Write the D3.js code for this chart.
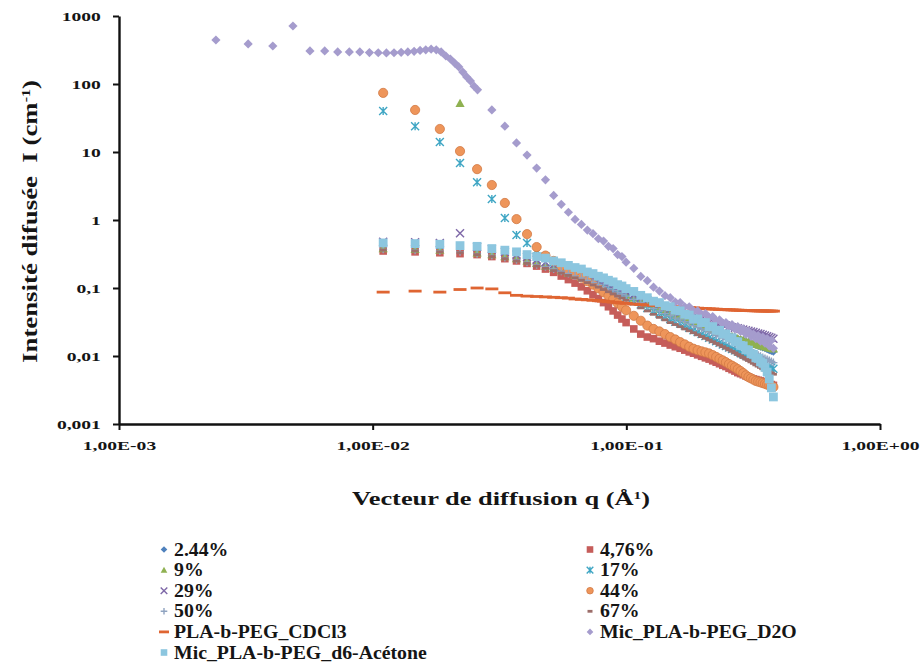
<!DOCTYPE html>
<html>
<head>
<meta charset="utf-8">
<script src="https://cdn.jsdelivr.net/npm/d3@7"></script>
<style>
  body { margin: 0; background: #fff; }
  svg { display: block; }
  text { font-family: "Liberation Serif", "Times New Roman", serif; font-weight: bold; fill: #151515; }
</style>
</head>
<body>
<svg id="chart" width="923" height="666"></svg>
<script>
// ---- scattering vector grid shared by the solution series (Å-1) ----
const qGrid = [
  0.0110, 0.0147, 0.0184, 0.0221, 0.0258, 0.0295, 0.0332, 0.0369, 0.0406, 0.0443,
  0.0480, 0.0517, 0.0554, 0.0591, 0.0628, 0.0665, 0.0702, 0.0739, 0.0776, 0.0813,
  0.0850, 0.0887, 0.0924, 0.0961, 0.0998, 0.107, 0.114, 0.121, 0.128, 0.135,
  0.142, 0.149, 0.156, 0.163, 0.170, 0.177, 0.184, 0.191, 0.198, 0.205,
  0.212, 0.219, 0.226, 0.233, 0.240, 0.247, 0.254, 0.261, 0.268, 0.275,
  0.282, 0.289, 0.296, 0.303, 0.310, 0.317, 0.324, 0.331, 0.338, 0.345,
  0.352, 0.359, 0.366, 0.373, 0.380
];

// ---- scattered intensities I (cm-1), one value per qGrid entry ----
const i244 = [
  0.40, 0.39, 0.38, 0.36, 0.34, 0.32, 0.30, 0.275, 0.255, 0.235,
  0.215, 0.198, 0.182, 0.168, 0.156, 0.145, 0.135, 0.126, 0.118, 0.110,
  0.103, 0.097, 0.091, 0.086, 0.081, 0.073, 0.066, 0.060, 0.055, 0.051,
  0.047, 0.044, 0.041, 0.038, 0.036, 0.034, 0.032, 0.030, 0.029, 0.027,
  0.026, 0.025, 0.024, 0.023, 0.022, 0.021, 0.020, 0.0195, 0.019, 0.018,
  0.0175, 0.017, 0.0165, 0.016, 0.0155, 0.015, 0.0145, 0.014, 0.0137, 0.0133,
  0.013, 0.0126, 0.0122, 0.0118, 0.0115
];
const i476 = [
  0.35, 0.34, 0.33, 0.32, 0.31, 0.29, 0.27, 0.25, 0.23, 0.21,
  0.19, 0.17, 0.15, 0.133, 0.118, 0.104, 0.091, 0.080, 0.070, 0.061,
  0.053, 0.046, 0.040, 0.035, 0.031, 0.025, 0.021, 0.019, 0.018, 0.0165,
  0.0155, 0.0145, 0.0137, 0.013, 0.0122, 0.0115, 0.011, 0.0104, 0.0099, 0.0094,
  0.009, 0.0085, 0.0081, 0.0077, 0.0073, 0.0070, 0.0066, 0.0063, 0.0060, 0.0057,
  0.0055, 0.0053, 0.0051, 0.0049, 0.0047, 0.0046, 0.0045, 0.0044, 0.0043, 0.0042,
  0.0041, 0.0040, 0.0039, 0.0038, 0.0037
];
const i9 = [
  0.38, 0.37, 0.36, 52, 0.33, 0.31, 0.29, 0.27, 0.25, 0.23,
  0.21, 0.195, 0.18, 0.166, 0.154, 0.143, 0.133, 0.124, 0.116, 0.108,
  0.101, 0.095, 0.089, 0.084, 0.079, 0.071, 0.064, 0.058, 0.053, 0.049,
  0.045, 0.042, 0.039, 0.037, 0.035, 0.033, 0.031, 0.0295, 0.028, 0.0267,
  0.0255, 0.0244, 0.0234, 0.0225, 0.0216, 0.0208, 0.020, 0.0193, 0.0187, 0.0181,
  0.0176, 0.0171, 0.0166, 0.0162, 0.0158, 0.0154, 0.015, 0.0147, 0.0144, 0.0141,
  0.0138, 0.0135, 0.0132, 0.013, 0.0128
];
const i17 = [
  40, 24, 14, 6.9, 3.6, 2.04, 1.07, 0.60, 0.46, 0.36,
  0.29, 0.24, 0.21, 0.185, 0.168, 0.153, 0.14, 0.128, 0.118, 0.108,
  0.099, 0.091, 0.084, 0.078, 0.072, 0.064, 0.057, 0.051, 0.046, 0.042,
  0.038, 0.035, 0.032, 0.030, 0.028, 0.026, 0.024, 0.0225, 0.021, 0.0197,
  0.0185, 0.0175, 0.0165, 0.0156, 0.0148, 0.014, 0.0133, 0.0127, 0.0121, 0.0116,
  0.0111, 0.0106, 0.0102, 0.0098, 0.0094, 0.0091, 0.0088, 0.0085, 0.0082, 0.0079,
  0.0076, 0.0073, 0.0070, 0.0068, 0.0065
];
const i29 = [
  0.48, 0.47, 0.46, 0.64, 0.40, 0.37, 0.34, 0.31, 0.285, 0.26,
  0.24, 0.22, 0.20, 0.185, 0.17, 0.158, 0.147, 0.137, 0.128, 0.12,
  0.112, 0.105, 0.099, 0.093, 0.088, 0.079, 0.072, 0.066, 0.061, 0.057,
  0.053, 0.050, 0.047, 0.044, 0.042, 0.040, 0.038, 0.036, 0.035, 0.034,
  0.033, 0.032, 0.031, 0.030, 0.029, 0.028, 0.027, 0.0265, 0.026, 0.0255,
  0.025, 0.0245, 0.024, 0.0235, 0.023, 0.0225, 0.022, 0.0215, 0.021, 0.0205,
  0.020, 0.0195, 0.019, 0.0185, 0.018
];
const i44 = [
  74, 41.5, 21.8, 10.3, 5.6, 3.27, 1.78, 1.03, 0.62, 0.40,
  0.30, 0.25, 0.21, 0.18, 0.16, 0.142, 0.126, 0.112, 0.099, 0.087,
  0.077, 0.068, 0.060, 0.053, 0.047, 0.039, 0.033, 0.028, 0.025, 0.023,
  0.021, 0.019, 0.0175, 0.016, 0.0148, 0.0137, 0.0128, 0.0122, 0.0117, 0.0113,
  0.0109, 0.0103, 0.0097, 0.0091, 0.0086, 0.0081, 0.0076, 0.0072, 0.0068, 0.0064,
  0.0060, 0.0056, 0.0052, 0.0049, 0.0047, 0.0045, 0.0043, 0.0042, 0.0041, 0.0040,
  0.0039, 0.0038, 0.0037, 0.0036, 0.0035
];
const i50 = [
  0.37, 0.36, 0.35, 0.34, 0.32, 0.30, 0.28, 0.26, 0.24, 0.22,
  0.205, 0.19, 0.176, 0.163, 0.151, 0.14, 0.13, 0.121, 0.113, 0.105,
  0.098, 0.092, 0.086, 0.081, 0.076, 0.068, 0.061, 0.055, 0.050, 0.046,
  0.042, 0.039, 0.036, 0.034, 0.032, 0.030, 0.028, 0.0265, 0.025, 0.0237,
  0.0225, 0.0213, 0.0202, 0.0192, 0.0183, 0.0174, 0.0166, 0.0158, 0.0151, 0.0144,
  0.0138, 0.0132, 0.0126, 0.0121, 0.0116, 0.0111, 0.0107, 0.0103, 0.0099, 0.0095,
  0.0092, 0.0089, 0.0086, 0.0083, 0.0080
];
const i67 = [
  0.36, 0.35, 0.34, 0.33, 0.31, 0.29, 0.27, 0.25, 0.23, 0.21,
  0.195, 0.18, 0.166, 0.153, 0.141, 0.13, 0.12, 0.111, 0.103, 0.095,
  0.088, 0.082, 0.076, 0.071, 0.066, 0.058, 0.051, 0.046, 0.041, 0.037,
  0.034, 0.031, 0.029, 0.027, 0.025, 0.0235, 0.022, 0.0205, 0.0193, 0.0182,
  0.0172, 0.0162, 0.0153, 0.0145, 0.0137, 0.013, 0.0123, 0.0117, 0.0111, 0.0105,
  0.010, 0.0095, 0.009, 0.0086, 0.0082, 0.0078, 0.0074, 0.0071, 0.0068, 0.0065,
  0.0062, 0.006, 0.0058, 0.0056, 0.0054
];
const iCDCl3 = [
  0.087, 0.090, 0.087, 0.095, 0.100, 0.097, 0.085, 0.078, 0.076, 0.075,
  0.074, 0.073, 0.072, 0.071, 0.069, 0.068, 0.067, 0.066, 0.065, 0.064,
  0.063, 0.062, 0.061, 0.060, 0.0595, 0.058, 0.057, 0.056, 0.0555, 0.055,
  0.054, 0.0535, 0.053, 0.0525, 0.052, 0.0515, 0.051, 0.0505, 0.050, 0.0497,
  0.0494, 0.0491, 0.0488, 0.0485, 0.0482, 0.048, 0.0478, 0.0476, 0.0474, 0.0472,
  0.047, 0.0468, 0.0466, 0.0465, 0.0464, 0.0463, 0.0462, 0.0461, 0.046, 0.046,
  0.0459, 0.0459, 0.0458, 0.0458, 0.0457
];
const iAcetone = [
  0.46, 0.45, 0.44, 0.42, 0.41, 0.38, 0.36, 0.34, 0.31, 0.29,
  0.275, 0.25, 0.235, 0.215, 0.20, 0.19, 0.172, 0.163, 0.149, 0.141,
  0.13, 0.123, 0.112, 0.107, 0.098, 0.089, 0.078, 0.072, 0.064, 0.061,
  0.055, 0.053, 0.047, 0.046, 0.041, 0.040, 0.035, 0.035, 0.031, 0.031,
  0.027, 0.027, 0.024, 0.0238, 0.0212, 0.021, 0.0185, 0.0184, 0.0163, 0.0162,
  0.0143, 0.0141, 0.0124, 0.0122, 0.0108, 0.0106, 0.0094, 0.0092, 0.0082, 0.0078,
  0.0068, 0.0058, 0.0046, 0.0034, 0.0025
];

// ---- micelles in D2O: low-q configuration, then the qGrid points from 0.0295 on ----
const qD2OLow = [
  0.00241, 0.00323, 0.00404, 0.00485, 0.00566, 0.00647, 0.00728, 0.00809, 0.0089, 0.00971,
  0.01052, 0.01133, 0.01214, 0.01295, 0.01376, 0.01457, 0.01538, 0.01619, 0.0170, 0.01781,
  0.01862, 0.01943, 0.02024, 0.02105, 0.02186, 0.02267, 0.02348, 0.02429, 0.0251, 0.02591
];
const iD2OLow = [
  444, 388, 362, 713, 306, 306, 296, 296, 296, 290,
  288, 286, 288, 292, 296, 302, 312, 318, 325, 318,
  296, 258, 233, 203, 178, 150, 127, 111, 93, 82
];
const iD2OHigh = [
  41.5, 24, 13.6, 9.0, 5.8, 3.9, 2.3, 1.7, 1.3, 1.02,
  0.86, 0.71, 0.63, 0.53, 0.49, 0.41, 0.38, 0.31, 0.29, 0.24,
  0.195, 0.148, 0.128, 0.103, 0.09, 0.077, 0.072, 0.062, 0.061, 0.053,
  0.053, 0.046, 0.046, 0.041, 0.042, 0.037, 0.038, 0.033, 0.034, 0.030,
  0.031, 0.027, 0.029, 0.025, 0.027, 0.023, 0.025, 0.021, 0.023, 0.0195,
  0.021, 0.018, 0.020, 0.0165, 0.019, 0.0155, 0.018, 0.014, 0.017, 0.013
];

// ---- axis ticks ----
const xTicks = [1e-3, 1e-2, 1e-1, 1];
const xTickLabels = ["1,00E-03", "1,00E-02", "1,00E-01", "1,00E+00"];
const yTicks = [1000, 100, 10, 1, 0.1, 0.01, 0.001];
const yTickLabels = ["1000", "100", "10", "1", "0,1", "0,01", "0,001"];

// ---- series names (legend order) ----
const seriesNames = ["2.44%", "4,76%", "9%", "17%", "29%", "44%", "50%", "67%",
  "PLA-b-PEG_CDCl3", "Mic_PLA-b-PEG_D2O", "Mic_PLA-b-PEG_d6-Acétone"];

// marker style per series, drawn in this order (later ones on top)
const series = [
  { name: seriesNames[0],  q: qGrid, v: i244,     marker: "diamond",  r: 4,   fill: "#4F81BD" },
  { name: seriesNames[1],  q: qGrid, v: i476,     marker: "square",   r: 3.8, fill: "#C65D5A" },
  { name: seriesNames[2],  q: qGrid, v: i9,       marker: "triangle", r: 4.6, fill: "#8FB151" },
  { name: seriesNames[3],  q: qGrid, v: i17,      marker: "star",     r: 4,   stroke: "#3FA6C4" },
  { name: seriesNames[4],  q: qGrid, v: i29,      marker: "times",    r: 4,   stroke: "#7E68A8" },
  { name: seriesNames[5],  q: qGrid, v: i44,      marker: "circle",   r: 4.6, fill: "#EE955A", stroke: "#D27A45" },
  { name: seriesNames[6],  q: qGrid, v: i50,      marker: "plus",     r: 4,   stroke: "#8FA3C0" },
  { name: seriesNames[7],  q: qGrid, v: i67,      marker: "dash",     r: 3.5, fill: "#9C6E6A" },
  { name: seriesNames[8],  q: qGrid, v: iCDCl3,   marker: "dash",     r: 6.5, fill: "#DF6532" },
  { name: seriesNames[9],  q: qD2OLow.concat(qGrid.slice(5)), v: iD2OLow.concat(iD2OHigh),
                                               marker: "diamond",  r: 4.6, fill: "#A59CCD" },
  { name: seriesNames[10], q: qGrid, v: iAcetone, marker: "square",   r: 4.4, fill: "#8CC6DF" }
];

const SX = 1.45;   // horizontal stretch of the tick lettering
const LSX = 1.1;   // horizontal stretch of the legend lettering

const markerPath = {
  diamond:  r => `M0,${-r}L${r},0L0,${r}L${-r},0Z`,
  square:   r => `M${-r},${-r}h${2 * r}v${2 * r}h${-2 * r}Z`,
  triangle: r => `M0,${-r}L${r},${r * 0.8}L${-r},${r * 0.8}Z`,
  circle:   r => d3.symbol(d3.symbolCircle, Math.PI * r * r)(),
  times:    r => `M${-r},${-r}L${r},${r}M${r},${-r}L${-r},${r}`,
  star:     r => `M${-r},${-r}L${r},${r}M${r},${-r}L${-r},${r}M0,${-r}L0,${r}`,
  plus:     r => `M${-r},0L${r},0M0,${-r}L0,${r}`,
  dash:     r => `M${-r},-1.4h${2 * r}v2.8h${-2 * r}Z`
};

function styleMarker(sel, s) {
  if (s.fill) sel.attr("fill", s.fill); else sel.attr("fill", "none");
  if (s.stroke) sel.attr("stroke", s.stroke).attr("stroke-width", s.fill ? 0.8 : 1.4);
  return sel;
}

const svg = d3.select("#chart");
const x = d3.scaleLog().domain([1e-3, 1]).range([119, 880]);
const y = d3.scaleLog().domain([1e-3, 1e3]).range([424, 16]);

// ---- data markers ----
const plot = svg.append("g");
series.forEach(s => {
  const pts = s.v.map((v, i) => ({ q: s.q[i], v })).filter(d => d.q != null && d.v > 0);
  const sel = plot.append("g").selectAll("path").data(pts).join("path")
    .attr("d", markerPath[s.marker](s.r))
    .attr("transform", d => `translate(${x(d.q)},${y(d.v)})`);
  styleMarker(sel, s);
});

// ---- axes ----
const gy = svg.append("g").attr("transform", "translate(119,0)")
  .call(d3.axisLeft(y).tickValues(yTicks).tickFormat((d, i) => yTickLabels[i]).tickSize(6).tickSizeOuter(0));
const gx = svg.append("g").attr("transform", "translate(0,424)")
  .call(d3.axisBottom(x).tickValues(xTicks).tickFormat((d, i) => xTickLabels[i]).tickSize(6).tickSizeOuter(0));
[gx, gy].forEach(g => {
  g.select(".domain").attr("stroke", "#111").attr("stroke-width", 2.4);
  g.selectAll(".tick line").attr("stroke", "#111").attr("stroke-width", 2);
  g.selectAll(".tick text").attr("font-family", null).attr("font-size", null)
    .style("font-size", "13.5px").attr("fill", "#151515");
});
gy.selectAll(".tick text").attr("x", -12.5).attr("transform", `scale(${SX},1)`);
gx.selectAll(".tick text").attr("y", 16).attr("transform", `scale(${SX},1)`);

// ---- axis titles ----
const yTitle = svg.append("text").attr("text-anchor", "middle").style("font-size", "20px")
  .style("white-space", "pre");
yTitle.append("tspan").text("Intensité difusée  I (cm");
yTitle.append("tspan").attr("baseline-shift", "super").style("font-size", "12px").text("-1");
yTitle.append("tspan").text(")");
{
  const w = yTitle.node().getComputedTextLength();
  yTitle.attr("transform", `translate(37,221.5) rotate(-90) scale(${283 / w},1.05)`);
}

const xTitle = svg.append("text").attr("text-anchor", "middle").style("font-size", "19px");
xTitle.append("tspan").text("Vecteur de diffusion q (Å");
xTitle.append("tspan").attr("baseline-shift", "super").style("font-size", "11px").text("1");
xTitle.append("tspan").text(")");
{
  const w = xTitle.node().getComputedTextLength();
  xTitle.attr("transform", `translate(501,505) scale(${298 / w},1)`);
}

// ---- legend: two columns, series alternate left / right ----
const legend = svg.append("g");
series.forEach((s, i) => {
  const col = i % 2, row = Math.floor(i / 2);
  const mx = col ? 590 : 164, cy = 549.5 + row * 20.6;
  const small = Object.assign({}, s, { r: s.marker === "dash" ? (s.r > 5 ? 5 : 2.5) : 3.3 });
  styleMarker(legend.append("path").attr("d", markerPath[s.marker](small.r))
    .attr("transform", `translate(${mx},${cy})`), small);
  legend.append("text").attr("transform", `translate(${mx + 10},${cy + 6}) scale(${LSX},1)`)
    .style("font-size", "18px").text(s.name);
});
</script>
</body>
</html>
